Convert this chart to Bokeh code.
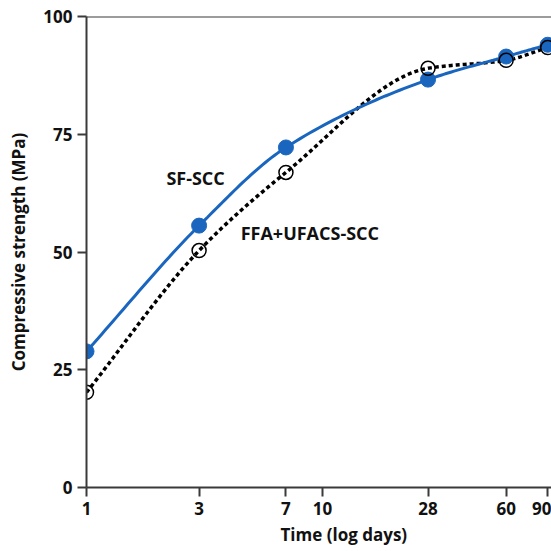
import numpy as np
from bokeh.plotting import figure
from bokeh.models import FixedTicker, CustomJSTickFormatter, Span, Label, Range1d, Title
from bokeh.embed import file_html
from bokeh.resources import INLINE

# ---- data ----
days = [1, 3, 7, 28, 60, 90]
sf_scc = [28.9, 55.6, 72.2, 86.6, 91.5, 94.0]
ffa_ufacs_scc = [20.2, 50.3, 66.9, 89.0, 90.7, 93.4]
x_ticks = [1, 3, 7, 10, 28, 60, 90]
y_ticks = [0, 25, 50, 75, 100]

FONT = "Open Sans"
BLUE = "#1a66bf"
AXIS = "#3a3a3a"
TXT = "#111111"


def pchip_curve(xs, ys, n=30):
    """Smooth monotone cubic through the points, in log-x space (for drawing only)."""
    lx = np.log10(np.asarray(xs, float))
    y = np.asarray(ys, float)
    h = np.diff(lx)
    d = np.diff(y) / h
    m = np.zeros_like(y)
    m[0], m[-1] = d[0], d[-1]
    for i in range(1, len(y) - 1):
        if d[i - 1] * d[i] <= 0:
            m[i] = 0
        else:
            w1 = 2 * h[i] + h[i - 1]
            w2 = h[i] + 2 * h[i - 1]
            m[i] = (w1 + w2) / (w1 / d[i - 1] + w2 / d[i])
    out_x, out_y = [], []
    for i in range(len(y) - 1):
        t = np.linspace(0, 1, n, endpoint=(i == len(y) - 2))
        h00 = 2 * t**3 - 3 * t**2 + 1
        h10 = t**3 - 2 * t**2 + t
        h01 = -2 * t**3 + 3 * t**2
        h11 = t**3 - t**2
        yy = h00 * y[i] + h10 * h[i] * m[i] + h01 * y[i + 1] + h11 * h[i] * m[i + 1]
        xx = lx[i] + t * h[i]
        out_x.extend(10 ** xx)
        out_y.extend(yy)
    return out_x, out_y


p = figure(
    width=551, height=551,
    x_axis_type="log",
    x_range=Range1d(1, 93.4), y_range=Range1d(0, 100),
    output_backend="svg", toolbar_location=None,
    min_border_left=86, min_border_right=0, min_border_top=16, min_border_bottom=64,
    background_fill_color="white", border_fill_color="white",
)
p.outline_line_color = None
p.xgrid.visible = False
p.ygrid.visible = False

# curves
fx, fy = pchip_curve(days, ffa_ufacs_scc)
p.line(fx, fy, line_color="black", line_width=3.5, line_dash="4 3")
sx, sy = pchip_curve(days, sf_scc)
p.line(sx, sy, line_color=BLUE, line_width=3)

# markers
p.scatter(days, sf_scc, size=15, fill_color=BLUE, line_color=BLUE)
p.scatter(days, ffa_ufacs_scc, size=14, fill_color=None, line_color="black", line_width=1.5)

# top border line
p.add_layout(Span(location=100, dimension="width", line_color=AXIS, line_width=2))

# axes
for ax in (p.xaxis[0], p.yaxis[0]):
    ax.axis_line_color = AXIS
    ax.axis_line_width = 2
    ax.major_tick_line_color = AXIS
    ax.major_tick_line_width = 2
    ax.major_tick_in = 0
    ax.major_tick_out = 9
    ax.minor_tick_line_color = None
    ax.major_label_text_font = FONT
    ax.major_label_text_font_style = "bold"
    ax.major_label_text_font_size = "17px"
    ax.major_label_text_color = TXT
    ax.major_label_standoff = 5

p.xaxis.ticker = FixedTicker(ticks=x_ticks)
p.xaxis.formatter = CustomJSTickFormatter(code="return String(Math.round(tick));")
p.yaxis.ticker = FixedTicker(ticks=y_ticks)

p.yaxis.axis_label = "Compressive strength (MPa)"
p.yaxis.axis_label_text_font = FONT
p.yaxis.axis_label_text_font_style = "bold"
p.yaxis.axis_label_text_font_size = "17px"
p.yaxis.axis_label_text_color = TXT
p.yaxis.axis_label_standoff = 10

xt = Title(text="Time (log days)", align="left", offset=194, standoff=6,
           text_font=FONT, text_font_style="bold", text_font_size="17px", text_color=TXT)
p.add_layout(xt, "below")

p.add_layout(Label(x=2.18, y=65.8, text="SF-SCC", text_font=FONT,
                   text_font_style="bold", text_font_size="18px", text_color=TXT,
                   text_baseline="middle", text_align="left"))
p.add_layout(Label(x=4.5, y=54.1, text="FFA+UFACS-SCC", text_font=FONT,
                   text_font_style="bold", text_font_size="18px", text_color=TXT,
                   text_baseline="middle", text_align="left"))

open("out.html", "w").write(file_html(p, INLINE))
